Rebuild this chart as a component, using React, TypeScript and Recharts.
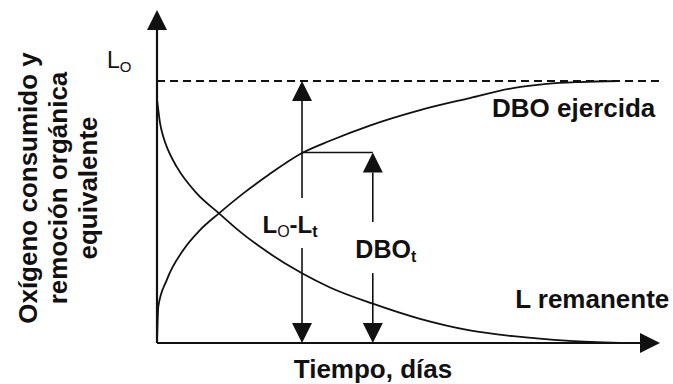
import React from "react";
import {
  ComposedChart,
  Line,
  XAxis,
  YAxis,
  ReferenceLine,
  ReferenceDot,
} from "recharts";

// Tiempo (días) y fracción de L0
const remanenteT = [0, 0.026, 0.06, 0.125, 0.22, 0.39, 0.79, 1.233, 1.65, 2.213, 2.883, 3.44, 4.29, 5.23, 6.22, 7.08, 8.2, 9.2];
const remanenteL = [0.93, 0.889, 0.84, 0.787, 0.737, 0.673, 0.571, 0.495, 0.425, 0.345, 0.266, 0.212, 0.15, 0.092, 0.048, 0.026, 0.008, 0];

const ejercidaT = [0, 0.01, 0.026, 0.193, 0.523, 0.855, 1.233, 1.716, 2.213, 2.883, 3.44, 4.23, 5.23, 6.22, 7.08, 7.75, 8.41, 9.2];
const ejercidaDBO = [0, 0.069, 0.139, 0.24, 0.355, 0.431, 0.495, 0.571, 0.641, 0.725, 0.772, 0.83, 0.889, 0.935, 0.973, 0.989, 0.996, 1];

const L0 = 1;
const T1 = 2.883; // flecha L0-Lt
const T2 = 4.29; // flecha DBOt
const DBO_T = 0.727;
const X_MAX = 10;
const Y_MAX = 1.271;

const datosL = remanenteT.map((t, i) => ({ t, v: remanenteL[i] }));
const datosDBO = ejercidaT.map((t, i) => ({ t, v: ejercidaDBO[i] }));

const INK = "#111";
const FONT = "'Liberation Sans', Arial, sans-serif";

// línea con punta de flecha en el extremo (x2, y2)
const flecha = (ancho: number, head = true) => (p: any) => {
  const { x1, y1, x2, y2 } = p;
  if (!head) {
    return <line x1={x1} y1={y1} x2={x2} y2={y2} stroke={INK} strokeWidth={ancho} />;
  }
  const dx = x2 - x1;
  const dy = y2 - y1;
  const len = Math.hypot(dx, dy) || 1;
  const ux = dx / len;
  const uy = dy / len;
  const largo = 20;
  const semi = 10;
  const bx = x2 - ux * largo;
  const by = y2 - uy * largo;
  const pts = `${x2},${y2} ${bx - uy * semi},${by + ux * semi} ${bx + uy * semi},${by - ux * semi}`;
  return (
    <g>
      <line x1={x1} y1={y1} x2={bx} y2={by} stroke={INK} strokeWidth={ancho} />
      <polygon points={pts} fill={INK} />
    </g>
  );
};

const texto = (render: (cx: number, cy: number) => React.ReactElement) => (p: any) =>
  render(p.cx, p.cy);

export default function App() {
  return (
    <div style={{ position: "absolute", left: 0, top: 0, width: 673, height: 384, background: "#fff" }}>
      <ComposedChart
        width={673}
        height={384}
        margin={{ top: 10, right: 13, bottom: 41, left: 157 }}
      >
        <XAxis dataKey="t" type="number" domain={[0, X_MAX]} hide allowDataOverflow />
        <YAxis type="number" domain={[0, Y_MAX]} hide allowDataOverflow />

        <ReferenceLine
          segment={[{ x: 0, y: L0 }, { x: X_MAX + 0.06, y: L0 }]}
          stroke={INK}
          strokeWidth={2}
          strokeDasharray="8 5"
          ifOverflow="visible"
        />

        <Line data={datosL} dataKey="v" type="monotone" stroke={INK} strokeWidth={1.8} dot={false} isAnimationActive={false} />
        <Line data={datosDBO} dataKey="v" type="monotone" stroke={INK} strokeWidth={1.8} dot={false} isAnimationActive={false} />

        {/* ejes con flecha */}
        <ReferenceLine segment={[{ x: 0, y: 0 }, { x: 0, y: Y_MAX }]} shape={flecha(2.2)} ifOverflow="visible" />
        <ReferenceLine segment={[{ x: 0, y: 0 }, { x: X_MAX, y: 0 }]} shape={flecha(2.2)} ifOverflow="visible" />

        {/* L0 - Lt */}
        <ReferenceLine segment={[{ x: T1, y: 0.553 }, { x: T1, y: L0 }]} shape={flecha(1.6)} ifOverflow="visible" />
        <ReferenceLine segment={[{ x: T1, y: 0.363 }, { x: T1, y: 0 }]} shape={flecha(1.6)} ifOverflow="visible" />

        {/* DBOt */}
        <ReferenceLine segment={[{ x: T1, y: DBO_T }, { x: T2, y: DBO_T }]} shape={flecha(1.6, false)} ifOverflow="visible" />
        <ReferenceLine segment={[{ x: T2, y: 0.462 }, { x: T2, y: DBO_T }]} shape={flecha(1.6)} ifOverflow="visible" />
        <ReferenceLine segment={[{ x: T2, y: 0.267 }, { x: T2, y: 0 }]} shape={flecha(1.6)} ifOverflow="visible" />

        <ReferenceDot
          x={0}
          y={L0}
          r={0}
          ifOverflow="visible"
          shape={texto((cx, cy) => (
            <text x={cx - 50} y={cy - 13} fontFamily={FONT} fontSize={23} fill={INK}>
              L<tspan fontSize={15} dy={4}>O</tspan>
            </text>
          ))}
        />
        <ReferenceDot
          x={T1}
          y={0.42}
          r={0}
          ifOverflow="visible"
          shape={texto((cx, cy) => (
            <text x={cx - 12} y={cy} textAnchor="middle" fontFamily={FONT} fontSize={24} fontWeight="bold" fill={INK}>
              L<tspan fontSize={16} fontWeight="normal" dy={4}>O</tspan>
              <tspan dy={-4}>-L</tspan>
              <tspan fontSize={16} dy={4}>t</tspan>
            </text>
          ))}
        />
        <ReferenceDot
          x={T2}
          y={0.324}
          r={0}
          ifOverflow="visible"
          shape={texto((cx, cy) => (
            <text x={cx + 13} y={cy} textAnchor="middle" fontFamily={FONT} fontSize={25} fontWeight="bold" fill={INK}>
              DBO<tspan fontSize={16} dy={4}>t</tspan>
            </text>
          ))}
        />
        <ReferenceDot
          x={6.66}
          y={0.863}
          r={0}
          ifOverflow="visible"
          shape={texto((cx, cy) => (
            <text x={cx} y={cy} fontFamily={FONT} fontSize={26} fontWeight="bold" fill={INK}>
              DBO ejercida
            </text>
          ))}
        />
        <ReferenceDot
          x={7.12}
          y={0.134}
          r={0}
          ifOverflow="visible"
          shape={texto((cx, cy) => (
            <text x={cx} y={cy} fontFamily={FONT} fontSize={26} fontWeight="bold" fill={INK}>
              L remanente
            </text>
          ))}
        />
      </ComposedChart>

      <svg width={673} height={384} style={{ position: "absolute", left: 0, top: 0, pointerEvents: "none" }}>
        <text x={373} y={378} textAnchor="middle" fontFamily={FONT} fontSize={26} fontWeight="bold" fill={INK}>
          Tiempo, días
        </text>
        <g transform="rotate(-90)" fontFamily={FONT} fontSize={26} fontWeight="bold" fill={INK} textAnchor="middle">
          <text x={-188} y={37}>Oxígeno consumido y</text>
          <text x={-188} y={67}>remoción orgánica</text>
          <text x={-188} y={97}>equivalente</text>
        </g>
      </svg>
    </div>
  );
}
